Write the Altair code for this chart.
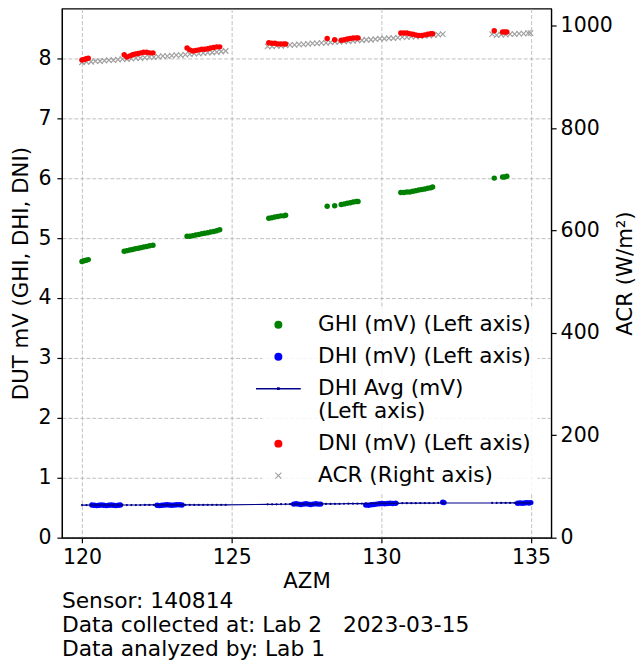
import altair as alt
import pandas as pd

FONT = "DejaVu Sans"

# ---------------- data ----------------
ghi_azm = [120.00, 120.07, 120.14, 120.21,
           121.41, 121.50, 121.60, 121.69, 121.78, 121.88, 121.97, 122.06, 122.16, 122.26, 122.37,
           123.51, 123.60, 123.70, 123.80, 123.90, 124.00, 124.10, 124.20, 124.30, 124.40, 124.50, 124.60,
           126.24, 126.34, 126.44, 126.54, 126.64, 126.74, 126.80,
           128.19, 128.44, 128.66, 128.76, 128.86, 128.96, 129.06, 129.16, 129.22,
           130.65, 130.75, 130.85, 130.95, 131.05, 131.15, 131.25, 131.35, 131.45, 131.55, 131.65, 131.71,
           133.77, 134.05, 134.12, 134.19]
ghi_mv = [4.61, 4.62, 4.63, 4.64,
          4.78, 4.79, 4.80, 4.81, 4.82, 4.83, 4.84, 4.85, 4.86, 4.87, 4.88,
          5.03, 5.03, 5.04, 5.05, 5.06, 5.07, 5.08, 5.09, 5.10, 5.11, 5.12, 5.14,
          5.33, 5.34, 5.35, 5.36, 5.37, 5.37, 5.38,
          5.53, 5.54, 5.56, 5.57, 5.58, 5.59, 5.60, 5.61, 5.61,
          5.76, 5.76, 5.77, 5.77, 5.78, 5.79, 5.80, 5.81, 5.82, 5.83, 5.84, 5.85,
          6.00, 6.02, 6.02, 6.03]
dni_mv = [7.97, 7.98, 7.99, 8.00,
          8.06, 8.02, 8.04, 8.06, 8.07, 8.08, 8.09, 8.10, 8.10, 8.09, 8.09,
          8.17, 8.14, 8.12, 8.13, 8.14, 8.15, 8.15, 8.16, 8.17, 8.18, 8.19, 8.19,
          8.26, 8.25, 8.25, 8.24, 8.24, 8.24, 8.24,
          8.33, 8.31, 8.30, 8.31, 8.32, 8.33, 8.34, 8.34, 8.34,
          8.42, 8.42, 8.42, 8.41, 8.40, 8.39, 8.38, 8.38, 8.39, 8.40, 8.41, 8.41,
          8.46, 8.44, 8.44, 8.44]

dhi_azm = [120.33, 120.41, 120.49, 120.57, 120.65, 120.73, 120.81, 120.89, 120.97, 121.05, 121.13, 121.21, 121.28,
           122.51, 122.59, 122.67, 122.76, 122.84, 122.92, 123.00, 123.09, 123.17, 123.26, 123.34,
           127.07, 127.15, 127.23, 127.31, 127.40, 127.48, 127.56, 127.64, 127.72, 127.81, 127.89, 127.97,
           129.48, 129.57, 129.66, 129.75, 129.84, 129.93, 130.02, 130.11, 130.20, 130.29, 130.38, 130.48,
           132.05, 132.09,
           134.55, 134.63, 134.71, 134.79, 134.86, 134.93, 134.99]
dhi_mv = [0.545, 0.540, 0.535, 0.540, 0.545, 0.540, 0.535, 0.540, 0.545, 0.540, 0.535, 0.540, 0.545,
          0.540, 0.535, 0.540, 0.545, 0.550, 0.545, 0.540, 0.545, 0.550, 0.550, 0.545,
          0.560, 0.565, 0.560, 0.555, 0.560, 0.565, 0.560, 0.555, 0.560, 0.565, 0.560, 0.560,
          0.545, 0.540, 0.550, 0.555, 0.560, 0.565, 0.570, 0.565, 0.570, 0.575, 0.570, 0.575,
          0.590, 0.585,
          0.575, 0.580, 0.575, 0.580, 0.585, 0.580, 0.585]

acr_azm = [120.00, 120.15, 120.30, 120.45, 120.60, 120.75, 120.90, 121.05, 121.20, 121.35, 121.50,
           121.65, 121.80, 121.95, 122.10, 122.25, 122.40, 122.55, 122.70, 122.85, 123.00, 123.15,
           123.30, 123.45, 123.60, 123.75, 123.90, 124.05, 124.20, 124.35, 124.50, 124.65, 124.80,
           126.20, 126.35, 126.50, 126.65, 126.80, 126.95, 127.10, 127.25, 127.40, 127.55,
           127.70, 127.85, 128.00, 128.15, 128.30, 128.45, 128.60, 128.75, 128.90, 129.05,
           129.20, 129.35, 129.50, 129.65, 129.80, 129.95, 130.10, 130.25, 130.40, 130.55,
           130.70, 130.85, 131.00, 131.15, 131.30, 131.45, 131.60, 131.75, 131.90, 132.05,
           133.70, 133.85, 134.00, 134.15, 134.30, 134.45, 134.60, 134.75, 134.90, 134.98]
acr_wm2 = [929, 930, 930, 931, 931, 932, 933, 933, 934, 935, 935,
           936, 937, 937, 938, 939, 939, 940, 941, 941, 942, 943,
           943, 944, 945, 946, 946, 947, 948, 948, 949, 950, 951,
           960, 960, 961, 961, 962, 963, 963, 964, 964, 965,
           966, 966, 967, 967, 968, 969, 969, 970, 970, 971,
           972, 972, 973, 973, 974, 975, 975, 976, 976, 977,
           978, 978, 979, 979, 980, 981, 981, 982, 983, 984,
           984, 982, 983, 983, 984, 984, 985, 985, 986, 986]
dhi_avg_mv = [0.544, 0.544, 0.545, 0.545, 0.545, 0.545, 0.545, 0.545, 0.545, 0.545, 0.545,
              0.545, 0.545, 0.545, 0.546, 0.546, 0.546, 0.546, 0.546, 0.546, 0.546, 0.546,
              0.547, 0.547, 0.547, 0.547, 0.547, 0.547, 0.548, 0.548, 0.548, 0.548, 0.548,
              0.556, 0.557, 0.557, 0.558, 0.558, 0.559, 0.559, 0.560, 0.560, 0.561,
              0.561, 0.562, 0.563, 0.563, 0.564, 0.565, 0.565, 0.566, 0.567, 0.567,
              0.568, 0.569, 0.569, 0.570, 0.571, 0.571, 0.572, 0.573, 0.573, 0.574,
              0.575, 0.575, 0.576, 0.576, 0.577, 0.577, 0.578, 0.578, 0.579, 0.579,
              0.579, 0.579, 0.580, 0.580, 0.580, 0.581, 0.581, 0.581, 0.582, 0.582]

series_names = ["GHI (mV) (Left axis)", "DHI (mV) (Left axis)", "DHI Avg (mV) (Left axis)",
                "DNI (mV) (Left axis)", "ACR (Right axis)"]
series_colors = ["#008000", "#0000ff", "#00008b", "#ff0000", "#a0a0a0"]

x_ticks = [120, 125, 130, 135]
left_ticks = [0, 1, 2, 3, 4, 5, 6, 7, 8]
right_ticks = [0, 200, 400, 600, 800, 1000]

x_title = "AZM"
left_title = "DUT mV (GHI, DHI, DNI)"
right_title = "ACR (W/m²)"
footer = ["Sensor: 140814", "Data collected at: Lab 2\u00a0\u00a0 2023-03-15", "Data analyzed by: Lab 1"]

# ---------------- shapes ----------------
LINE_PATH = "M-5.6,-0.17H5.6V0.17H-5.6Z M-0.35,-0.35H0.35V0.35H-0.35Z"
X_LEG = ("M-0.65,-0.85L0.85,0.65L0.65,0.85L-0.85,-0.65Z "
         "M-0.85,0.65L0.65,-0.85L0.85,-0.65L-0.65,0.85Z")
X_DATA = ("M-0.85,-1.15L1.15,0.85L0.85,1.15L-1.15,-0.85Z "
          "M-1.15,0.85L0.85,-1.15L1.15,-0.85L-0.85,1.15Z")
legend_shapes = ["circle", "circle", LINE_PATH, "circle", X_LEG]

ghi_df = pd.DataFrame({"azm": ghi_azm, "v": ghi_mv})
dni_df = pd.DataFrame({"azm": ghi_azm, "v": dni_mv})
dhi_df = pd.DataFrame({"azm": dhi_azm, "v": dhi_mv})
avg_df = pd.DataFrame({"azm": acr_azm, "v": dhi_avg_mv})
acr_df = pd.DataFrame({"azm": acr_azm, "w": acr_wm2})
leg_df = pd.DataFrame({"series": series_names})

x_enc = alt.X("azm:Q",
              scale=alt.Scale(domain=[119.33, 135.67], nice=False, zero=False),
              axis=alt.Axis(values=x_ticks, format="d", title=x_title, grid=True,
                            labelPadding=5, titlePadding=2))
y_left = alt.Y("v:Q",
               scale=alt.Scale(domain=[0, 8.83], nice=False, zero=False),
               axis=alt.Axis(values=left_ticks, format="d", title=left_title, orient="left", grid=True,
                             labelPadding=6, titlePadding=6))
y_right = alt.Y("w:Q",
                scale=alt.Scale(domain=[0, 1034], nice=False, zero=False),
                axis=alt.Axis(values=right_ticks, format="d", title=right_title, orient="right", grid=False,
                              labelPadding=4, titlePadding=2, titleAngle=270, titleBaseline="top"))

acr_layer = alt.Chart(acr_df).mark_point(shape=X_DATA, filled=True, size=30,
                                          color="#a0a0a0", opacity=1).encode(x=x_enc, y=y_right)

ghi_layer = alt.Chart(ghi_df).mark_point(shape="circle", filled=True, size=30,
                                          color="#008000", opacity=1).encode(x=x_enc, y=y_left)
dhi_layer = alt.Chart(dhi_df).mark_point(shape="circle", filled=True, size=30,
                                          color="#0000ff", opacity=1).encode(x=x_enc, y=y_left)
avg_layer = alt.Chart(avg_df).mark_line(
    color="#00008b", strokeWidth=1.2,
    point=alt.OverlayMarkDef(filled=True, size=5, color="#00008b", opacity=1)
).encode(x=x_enc, y=y_left)
dni_layer = alt.Chart(dni_df).mark_point(shape="circle", filled=True, size=30,
                                          color="#ff0000", opacity=1).encode(x=x_enc, y=y_left)

leg = alt.Legend(
    title=None, orient="none", legendX=200, legendY=300,
    labelFont=FONT, labelFontSize=21.6, labelColor="black", labelLimit=500,
    symbolSize=64, symbolStrokeWidth=0, symbolOpacity=1,
    labelOffset=29, rowPadding=9, padding=6,
    fillColor="rgba(255,255,255,0.85)", strokeColor="rgba(255,255,255,0)",
    labelExpr="datum.label == 'DHI Avg (mV) (Left axis)' ? ['DHI Avg (mV)', '(Left axis)'] : datum.label",
)
legend_layer = alt.Chart(leg_df).transform_filter("false").mark_point(filled=True, opacity=1).encode(
    color=alt.Color("series:N", scale=alt.Scale(domain=series_names, range=series_colors), legend=leg),
    shape=alt.Shape("series:N", scale=alt.Scale(domain=series_names, range=legend_shapes), legend=leg),
)

left = alt.layer(ghi_layer, dhi_layer, avg_layer, dni_layer, legend_layer)

chart = alt.layer(acr_layer, left).resolve_scale(y="independent").properties(
    width=490, height=530,
    padding={"left": 2, "top": 0, "right": 0, "bottom": 0},
    title=alt.TitleParams(text=footer, orient="bottom", anchor="start", frame="group",
                          font=FONT, fontSize=21.8, fontWeight="normal", color="black",
                          lineHeight=24, offset=0),
).configure(font=FONT).configure_view(
    stroke="black", strokeWidth=1.2
).configure_axis(
    labelFont=FONT, titleFont=FONT, labelFontSize=20.5, titleFontSize=21.3,
    titleFontWeight="normal", labelColor="black", titleColor="black",
    domainColor="black", domainWidth=1.2, tickColor="black", tickWidth=1.2, tickSize=5,
    gridColor="#b0b0b0", gridDash=[4, 2], gridWidth=0.8,
)

chart.save("out.html", embed_options={"renderer": "svg", "actions": False})
